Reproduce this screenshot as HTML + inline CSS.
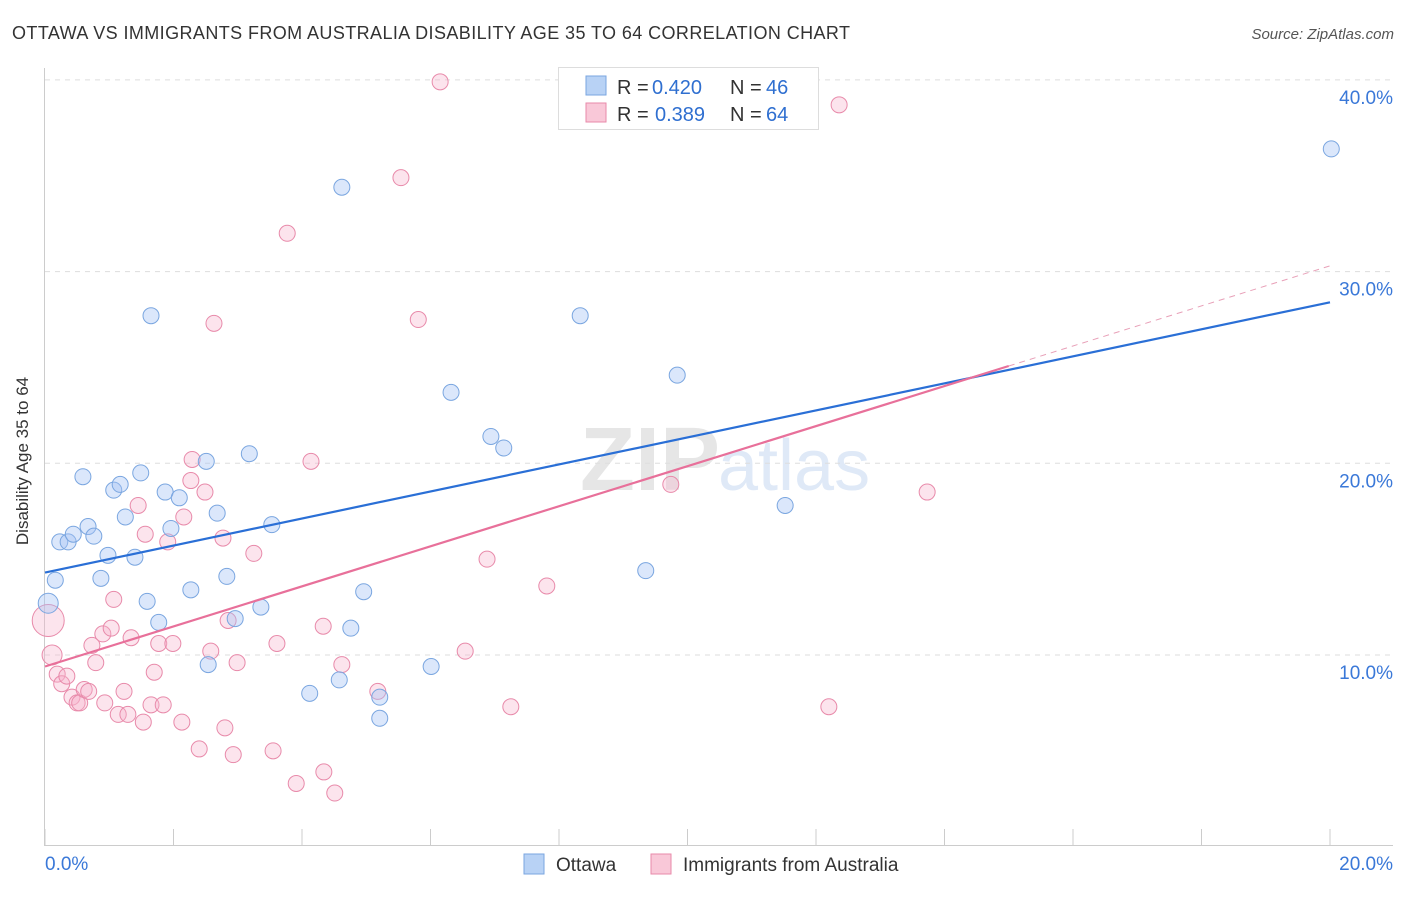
<!DOCTYPE html>
<html><head><meta charset="utf-8"><style>
body{margin:0;background:#fff;font-family:"Liberation Sans",sans-serif;}
svg text{font-family:"Liberation Sans",sans-serif;}
</style></head><body>
<svg id="chart" width="1406" height="892">
<text x="12" y="39" font-size="18" fill="#333" textLength="838">OTTAWA VS IMMIGRANTS FROM AUSTRALIA DISABILITY AGE 35 TO 64 CORRELATION CHART</text>
<text x="1394" y="39" font-size="15" fill="#555" text-anchor="end" font-style="italic">Source: ZipAtlas.com</text>
<text x="720" y="490" font-size="90" fill="#e6e6e6" text-anchor="end" font-family="Liberation Serif" font-weight="bold">ZIP</text>
<text x="718" y="490" font-size="72" fill="#dfe9f7">atlas</text>
<g id="grid"></g>
<g id="axes"></g>
<g id="pts"></g>
<g id="lines"></g>
<text x="22" y="455" font-size="17" fill="#333" text-anchor="middle" transform="rotate(-90 28 455)">Disability Age 35 to 64</text>
<g>
<rect x="558.5" y="67.5" width="260" height="62" fill="#fff" stroke="#ddd"/>
<rect x="586" y="76" width="20" height="19" fill="#b8d2f5" stroke="#7aa6e0"/>
<rect x="586" y="103" width="20" height="19" fill="#f9c8d8" stroke="#e88aaa"/>
<text x="617" y="94" font-size="20" fill="#333">R =</text>
<text x="652" y="94" font-size="20" fill="#2f6fd0">0.420</text>
<text x="730" y="94" font-size="20" fill="#333">N =</text>
<text x="766" y="94" font-size="20" fill="#2f6fd0">46</text>
<text x="617" y="121" font-size="20" fill="#333">R =</text>
<text x="655" y="121" font-size="20" fill="#2f6fd0">0.389</text>
<text x="730" y="121" font-size="20" fill="#333">N =</text>
<text x="766" y="121" font-size="20" fill="#2f6fd0">64</text>
</g>
<g>
<rect x="524" y="854" width="20" height="20" fill="#b8d2f5" stroke="#7aa6e0"/>
<text x="556" y="871" font-size="19" fill="#333">Ottawa</text>
<rect x="651" y="854" width="20" height="20" fill="#f9c8d8" stroke="#e88aaa"/>
<text x="683" y="871" font-size="19" fill="#333">Immigrants from Australia</text>
</g>
</svg>
<script>
const blueX=[0.05,0.16,0.23,0.36,0.44,0.59,0.67,0.76,0.87,0.98,1.07,1.17,1.25,1.40,1.49,1.59,1.65,1.77,1.87,1.96,2.09,2.27,2.51,2.54,2.68,2.83,2.96,3.18,3.36,3.53,4.12,4.58,4.62,4.76,4.96,5.21,5.21,6.01,6.32,6.94,7.14,8.33,9.35,9.84,11.52,20.02];
const blueY=[12.7,13.9,15.9,15.9,16.3,19.3,16.7,16.2,14.0,15.2,18.6,18.9,17.2,15.1,19.5,12.8,27.7,11.7,18.5,16.6,18.2,13.4,20.1,9.5,17.4,14.1,11.9,20.5,12.5,16.8,8.0,8.7,34.4,11.4,13.3,7.8,6.7,9.4,23.7,21.4,20.8,27.7,14.4,24.6,17.8,36.4];
const pinkX=[0.05,0.11,0.19,0.26,0.34,0.42,0.50,0.54,0.61,0.68,0.73,0.79,0.90,0.93,1.03,1.07,1.14,1.23,1.29,1.34,1.45,1.53,1.56,1.65,1.70,1.77,1.84,1.91,1.99,2.13,2.16,2.27,2.29,2.40,2.49,2.58,2.63,2.77,2.80,2.85,2.93,2.99,3.25,3.55,3.61,3.77,3.91,4.14,4.33,4.34,4.51,4.62,5.18,5.54,5.81,6.15,6.54,6.88,7.25,7.81,9.74,12.20,12.36,13.73];
const pinkY=[11.8,10.0,9.0,8.5,8.9,7.8,7.5,7.5,8.2,8.1,10.5,9.6,11.1,7.5,11.4,12.9,6.9,8.1,6.9,10.9,17.8,6.5,16.3,7.4,9.1,10.6,7.4,15.9,10.6,6.5,17.2,19.1,20.2,5.1,18.5,10.2,27.3,16.1,6.2,11.8,4.8,9.6,15.3,5.0,10.6,32.0,3.3,20.1,11.5,3.9,2.8,9.5,8.1,34.9,27.5,39.9,10.2,15.0,7.3,13.6,18.9,7.3,38.7,18.5];
const blueTrend=[14.3,28.4];
const pinkTrend=[9.4,30.3];
const pinkSolidEnd=15.0;
const yTicks=[10,20,30,40];
const NS="http://www.w3.org/2000/svg";
const X=v=>45+v*64.25, Y=v=>846.7-v*19.17;
function mk(t,a,p){const e=document.createElementNS(NS,t);for(const k in a)e.setAttribute(k,a[k]);p.appendChild(e);return e;}
const grid=document.getElementById('grid'),axes=document.getElementById('axes');
for(const t of yTicks){
 const l=mk('line',{x1:45,x2:1393,y1:Y(t),y2:Y(t),stroke:'#ddd','stroke-dasharray':'5,5'},grid);
 
 
 const tx=mk('text',{x:1393,y:Y(t)+24,'font-size':19,fill:'#3a78d8','text-anchor':'end'},axes);
 tx.textContent=t.toFixed(1)+'%';
 
 
}
mk('line',{x1:44.5,x2:44.5,y1:68,y2:846,stroke:'#ccc'},axes);
mk('line',{x1:45,x2:1393,y1:845.5,y2:845.5,stroke:'#ccc'},axes);
for(let i=0;i<=10;i++){mk('line',{x1:X(i*2),x2:X(i*2),y1:829,y2:846,stroke:'#ccc'},axes);}
let t0=mk('text',{x:45,y:870,'font-size':19,fill:'#3a78d8'},axes);t0.textContent='0.0%';


let t1=mk('text',{x:1393,y:870,'font-size':19,fill:'#3a78d8','text-anchor':'end'},axes);t1.textContent='20.0%';


const pts=document.getElementById('pts');
pinkX.forEach((x,i)=>{const c=mk('circle',{cx:X(x),cy:Y(pinkY[i]),r:i==0?16:(i==1?10:8),fill:'rgba(246,178,202,0.35)',stroke:'#e88aaa','stroke-width':1},pts);
 
 });
blueX.forEach((x,i)=>{const c=mk('circle',{cx:X(x),cy:Y(blueY[i]),r:i==0?10:8,fill:'rgba(164,196,244,0.4)',stroke:'#7aa6e0','stroke-width':1},pts);
 
 });
const lines=document.getElementById('lines');
const pv=x=>pinkTrend[0]+(pinkTrend[1]-pinkTrend[0])*x/20;
let l1=mk('line',{x1:X(0),y1:Y(blueTrend[0]),x2:X(20),y2:Y(blueTrend[1]),stroke:'#2a6fd6','stroke-width':2.2},lines);


let l2=mk('line',{x1:X(0),y1:Y(pv(0)),x2:X(pinkSolidEnd),y2:Y(pv(pinkSolidEnd)),stroke:'#e8709a','stroke-width':2.2},lines);


let l3=mk('line',{x1:X(pinkSolidEnd),y1:Y(pv(pinkSolidEnd)),x2:X(20),y2:Y(pv(20)),stroke:'#e8a0b8','stroke-width':1,'stroke-dasharray':'6,5'},lines);


</script>
</body></html>
